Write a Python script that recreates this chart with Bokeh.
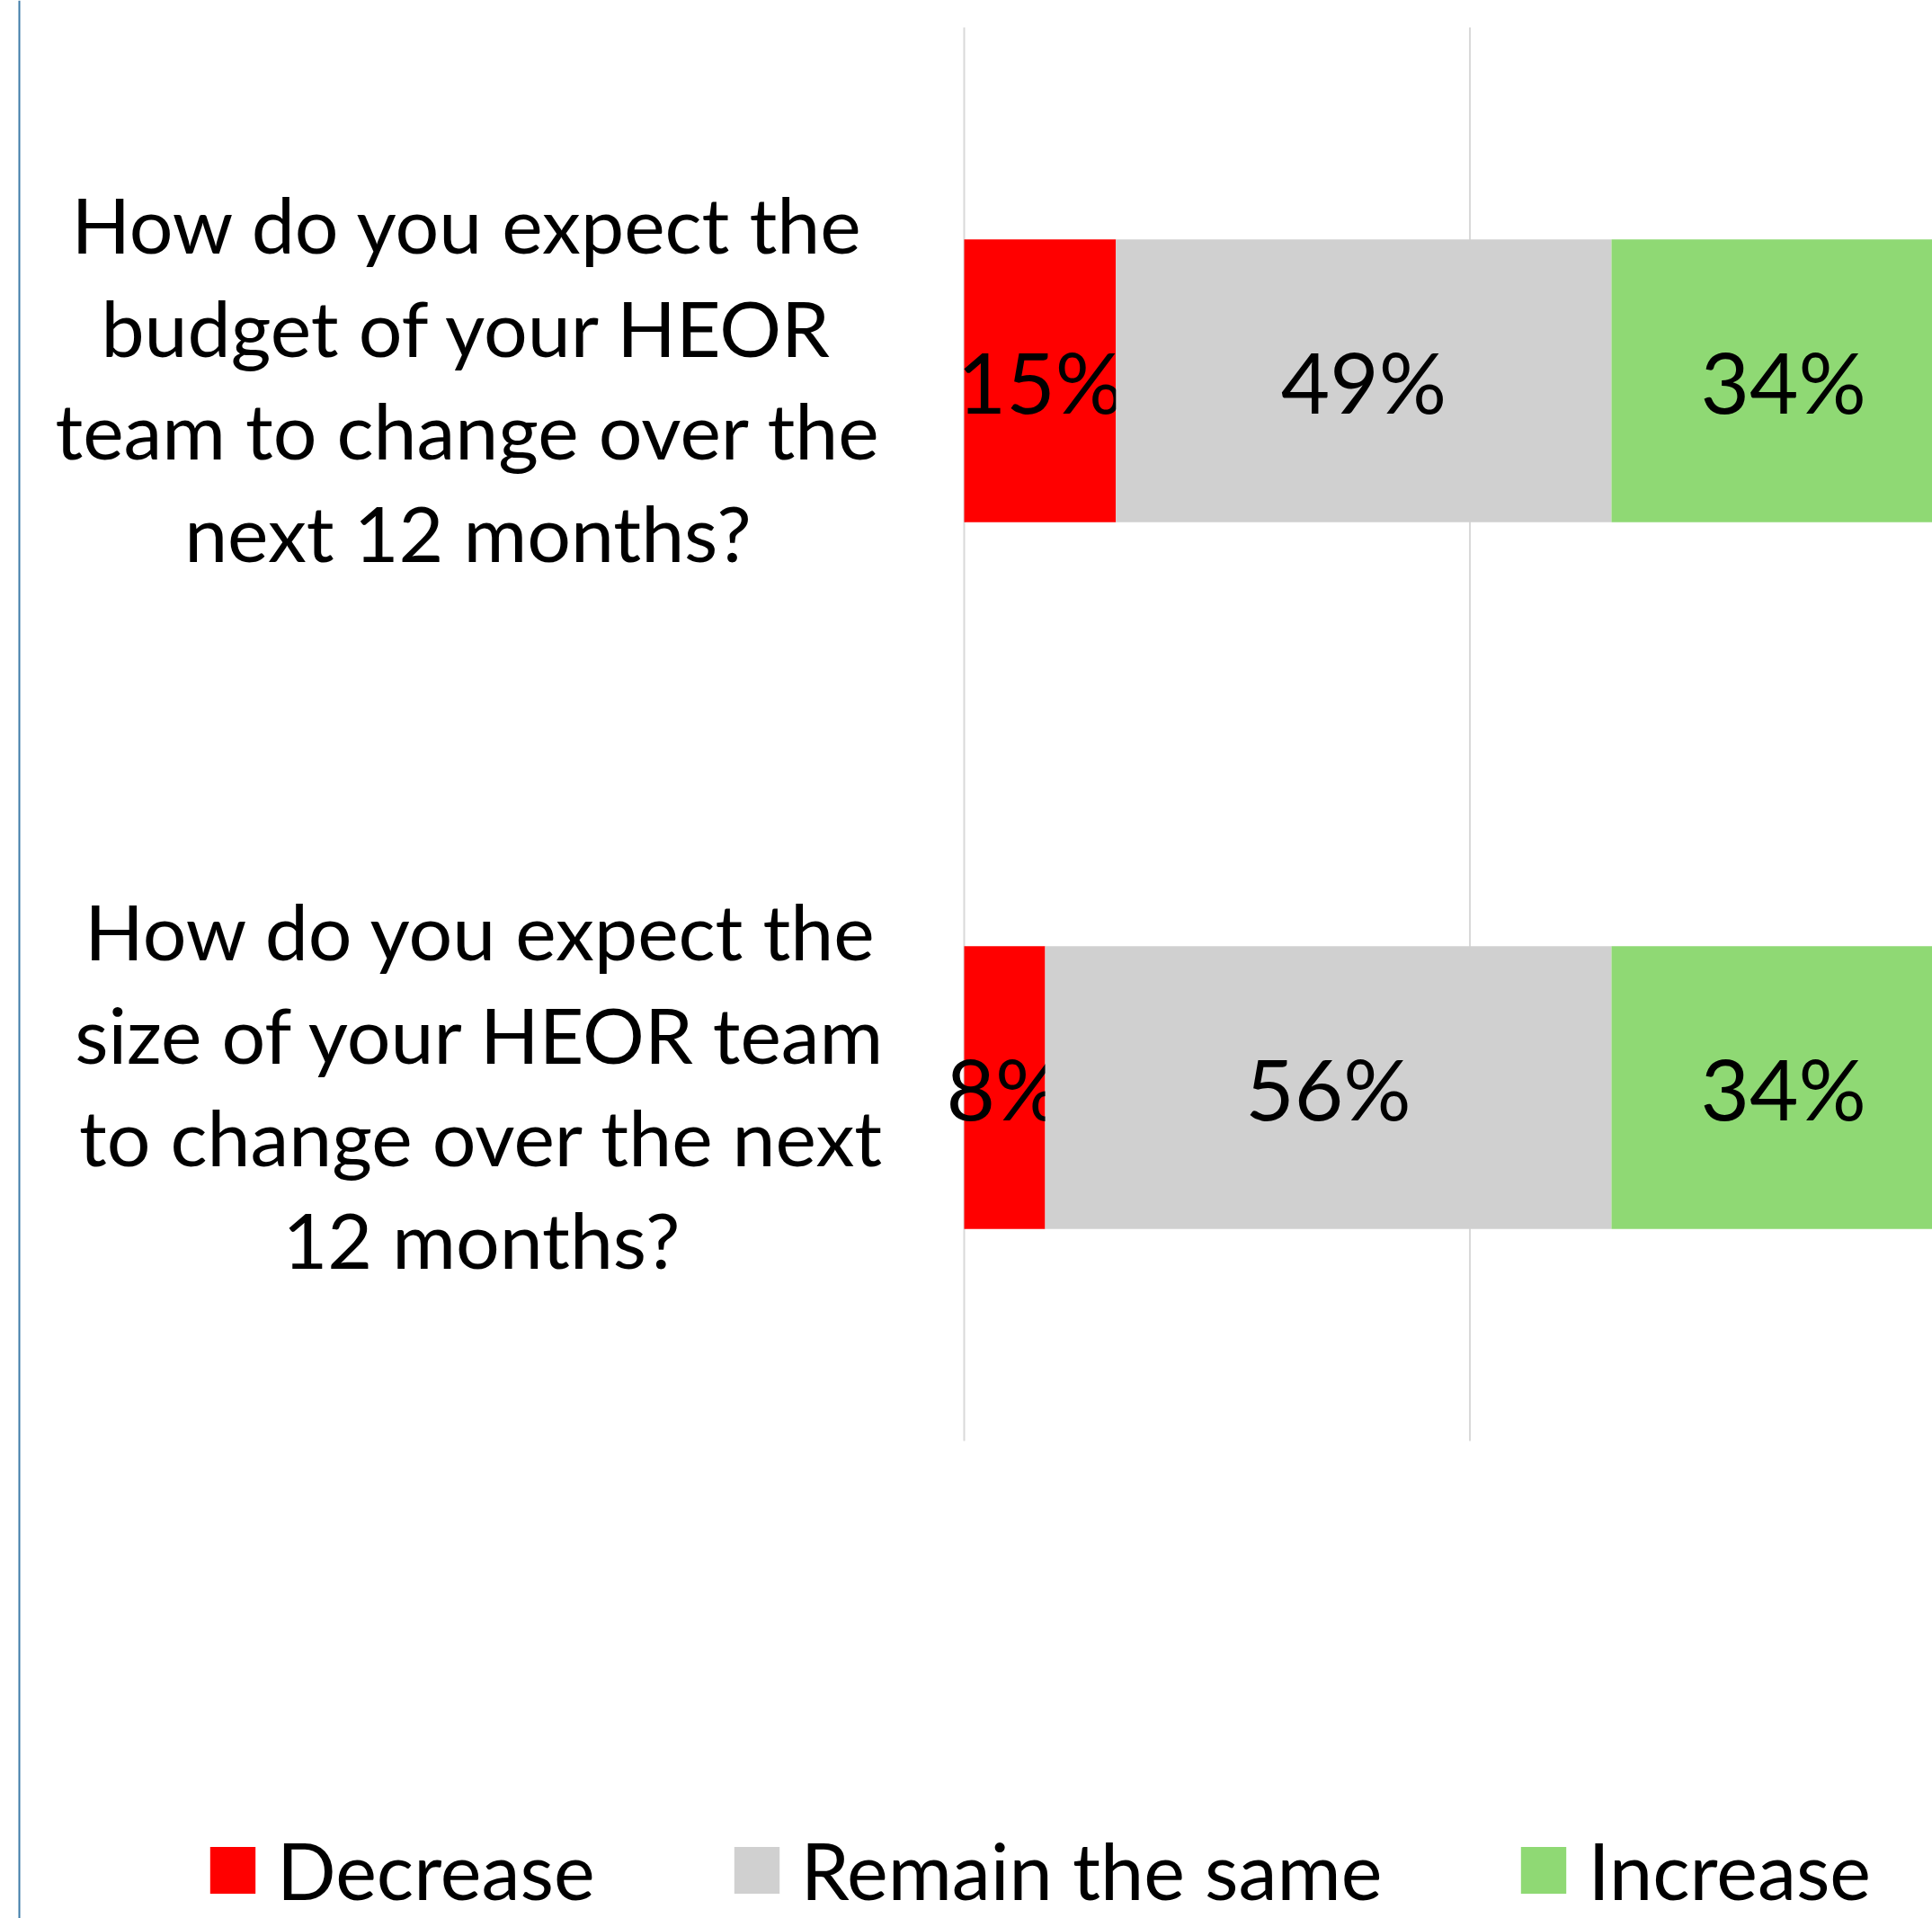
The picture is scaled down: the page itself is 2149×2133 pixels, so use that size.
from bokeh.plotting import figure
from bokeh.models import Range1d, ColumnDataSource, Legend, LegendItem, Span
from bokeh.core.properties import value
from bokeh.embed import file_html
from bokeh.resources import INLINE

# ---- data ----
questions = [
    "How do you expect the\nbudget of your HEOR\nteam to change over the\nnext 12 months?",
    "How do you expect the\nsize of your HEOR team\nto change over the next\n12 months?",
]
series = ["Decrease", "Remain the same", "Increase"]
decrease = [15, 8]
remain = [49, 56]
increase = [34, 34]
grid_ticks = [0, 50, 100]

colors = ["#FF0000", "#D0D0D0", "#8FD974"]
FONT = "Lato"

W, H = 2149, 2133
px_per_unit = 11.25
x0_page = 1072
x_start = (0 - x0_page) / px_per_unit
x_end = (W - x0_page) / px_per_unit
ncat = len(questions)
cat_px = 786
top_px = 30
y_end = ncat + top_px / cat_px
y_start = -(H - top_px - ncat * cat_px) / cat_px

p = figure(width=W, height=H, output_backend="svg", toolbar_location=None,
           x_range=Range1d(x_start, x_end), y_range=Range1d(y_start, y_end),
           min_border=0, min_border_left=0, min_border_right=0,
           min_border_top=0, min_border_bottom=0)
p.outline_line_color = None
p.axis.visible = False
p.grid.visible = False
p.background_fill_color = "white"

# category positions (first question on top)
ypos = [ncat - 0.5 - i for i in range(ncat)]

# gridlines limited to the category band
gx, gy0, gy1 = [], [], []
for t in grid_ticks:
    gx.append(t); gy0.append(0); gy1.append(ncat)
p.segment(x0=gx, y0=gy0, x1=gx, y1=gy1, line_color="#D9D9D9", line_width=2)

vals = [decrease, remain, increase]
lefts = [0] * ncat
renderers = []
for name, v, c in zip(series, vals, colors):
    rights = [l + x for l, x in zip(lefts, v)]
    src = ColumnDataSource(dict(y=ypos, left=lefts, right=rights,
                                mid=[(l + r) / 2 for l, r in zip(lefts, rights)],
                                lab=[f"{x}%" for x in v]))
    r = p.hbar(y="y", left="left", right="right", height=0.4, color=c, line_color=None, source=src)
    renderers.append((name, r))
    p.text(x="mid", y="y", text="lab", source=src, text_font=value(FONT),
           text_font_size="94px", text_align="center", text_baseline="middle",
           text_color="black")
    lefts = rights

# category labels
label_x = [(520 - x0_page) / px_per_unit, (535 - x0_page) / px_per_unit]
p.text(x=label_x, y=[y + 0.004 for y in ypos], text=questions, text_font=value(FONT),
       text_font_size="86px", text_align="center", text_baseline="middle",
       text_line_height=1.11, text_color="black")

# left border line
p.add_layout(Span(location=21, location_units="screen", dimension="height",
                  line_color="#3D7BA8", line_width=2))

legend = Legend(items=[LegendItem(label=n, renderers=[r]) for n, r in renderers],
                orientation="horizontal", location=(227, 2),
                label_text_font=FONT, label_text_font_size="86.5px", label_text_color="black",
                glyph_width=63, glyph_height=65, label_standoff=18, spacing=148,
                border_line_color=None, background_fill_alpha=0, padding=0, margin=0)
p.add_layout(legend)

open("out.html", "w").write(file_html(p, INLINE))
